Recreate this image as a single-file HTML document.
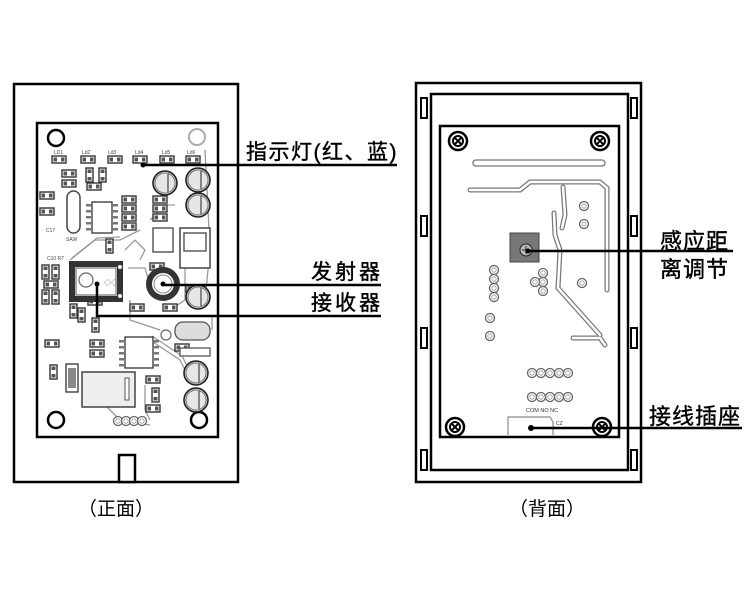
<!DOCTYPE html>
<html><head><meta charset="utf-8">
<style>
html,body{margin:0;padding:0;background:#fff;}
svg{display:block}
text{font-family:"Liberation Sans","Noto Sans CJK SC",sans-serif;}
</style></head><body>
<svg width="748" height="600" viewBox="0 0 748 600" xmlns="http://www.w3.org/2000/svg">
<defs>
<g id="smd"><rect x="0" y="0" width="14" height="7" fill="#fff" stroke="#333" stroke-width="1.4"/><rect x="1.5" y="1.5" width="3.5" height="4" fill="#555"/><rect x="9" y="1.5" width="3.5" height="4" fill="#555"/></g>
<g id="smdv"><rect x="0" y="0" width="7" height="14" fill="#fff" stroke="#333" stroke-width="1.4"/><rect x="1.5" y="1.5" width="4" height="3.5" fill="#555"/><rect x="1.5" y="9" width="4" height="3.5" fill="#555"/></g>
<g id="cap"><circle r="12" fill="#ccc" stroke="#222" stroke-width="1.6"/><circle r="10" fill="#e6e6e6" stroke="#777" stroke-width="1"/><line x1="3" y1="-9" x2="3" y2="9" stroke="#444" stroke-width="1.2"/></g>
<g id="pad"><circle r="4.5" fill="#fff" stroke="#666" stroke-width="1.3"/><circle r="2.2" fill="none" stroke="#999" stroke-width="0.8"/></g>
<g id="screw"><circle r="9" fill="#fff" stroke="#000" stroke-width="2.5"/><circle r="5" fill="#fff" stroke="#000" stroke-width="2"/><path d="M-3,-3 L3,3 M3,-3 L-3,3" stroke="#000" stroke-width="2"/></g>
<g id="tab"><rect x="-3" y="-10" width="6" height="20" fill="#fff" stroke="#000" stroke-width="2"/></g>
</defs>

<!-- LEFT (front) -->
<rect x="14" y="84" width="224" height="398" fill="#fff" stroke="#000" stroke-width="2.5"/>
<rect x="37" y="123" width="181" height="314" fill="#fff" stroke="#000" stroke-width="2.5"/>
<rect x="119" y="455" width="16" height="27" fill="#fff" stroke="#000" stroke-width="2.5"/>

<!-- traces -->
<g stroke="#999" stroke-width="1.3" fill="none">
<path d="M70,260 L95,240 L120,240 L140,230"/>
<path d="M72,258 L97,238 L120,237"/>
<path d="M125,250 L135,240 L145,250 L140,260"/>
<path d="M150,220 L165,205 L175,205"/>
<path d="M150,340 L180,360 L190,380"/>
<path d="M152,336 L182,356 L192,376"/>
<path d="M145,385 L145,410 L150,420"/>
<path d="M100,400 L120,420 L150,425"/>
<path d="M185,245 L185,300 L170,310"/>
<path d="M130,300 L130,320 L160,330"/>
<path d="M205,150 L210,250 L205,300"/>
<path d="M172,316 L212,316 L212,330"/>
<path d="M128,268 L145,268 L148,278"/>
</g>

<!-- holes -->
<circle cx="56" cy="138" r="8" fill="#fff" stroke="#000" stroke-width="2.5"/>
<circle cx="197" cy="137" r="8" fill="#fff" stroke="#aaa" stroke-width="2"/>
<circle cx="56" cy="420" r="8" fill="#fff" stroke="#000" stroke-width="2.5"/>
<circle cx="199" cy="420" r="8" fill="#fff" stroke="#000" stroke-width="2.5"/>

<!-- LEDs -->
<g font-size="5" fill="#444">
<text x="54" y="154">LD1</text><text x="82" y="154">Ld2</text><text x="108" y="154">Ld3</text><text x="135" y="154">Ld4</text><text x="162" y="154">Ld5</text><text x="187" y="154">Ld6</text>
</g>
<use href="#smd" x="52" y="156"/><use href="#smd" x="81" y="156"/><use href="#smd" x="108" y="156"/><use href="#smd" x="133" y="156"/><use href="#smd" x="160" y="156"/><use href="#smd" x="186" y="156"/>

<!-- small components -->
<use href="#smd" x="62" y="170"/><use href="#smd" x="62" y="180"/>
<use href="#smdv" x="86" y="168"/><use href="#smdv" x="99" y="168"/>
<use href="#smd" x="87" y="183"/>
<use href="#smd" x="40" y="192"/><use href="#smd" x="40" y="208"/>
<use href="#smd" x="122" y="196"/><use href="#smd" x="122" y="205"/><use href="#smd" x="122" y="214"/><use href="#smd" x="122" y="223"/>
<use href="#smd" x="153" y="196"/><use href="#smd" x="153" y="205"/><use href="#smd" x="153" y="214"/>
<use href="#smdv" x="42" y="265"/><use href="#smdv" x="52" y="265"/><use href="#smdv" x="42" y="290"/><use href="#smdv" x="52" y="290"/>
<use href="#smd" x="44" y="281"/>
<use href="#smd" x="150" y="263"/><use href="#smd" x="163" y="304"/><use href="#smd" x="130" y="304"/>
<use href="#smd" x="186" y="285"/>
<use href="#smdv" x="106" y="239"/><use href="#smdv" x="70" y="304"/>
<use href="#smdv" x="78" y="308"/><use href="#smd" x="88" y="298"/>
<use href="#smd" x="45" y="340"/><use href="#smd" x="90" y="340"/><use href="#smd" x="90" y="350"/>
<use href="#smd" x="146" y="376"/><use href="#smd" x="146" y="405"/>
<use href="#smdv" x="50" y="365"/><use href="#smdv" x="92" y="318"/>
<use href="#smdv" x="152" y="388"/><use href="#smd" x="175" y="344"/>
<rect x="66" y="364" width="12" height="28" fill="#fff" stroke="#333" stroke-width="1.3"/>
<rect x="68" y="368" width="8" height="20" fill="#888"/>
<!-- SAW -->
<rect x="67" y="191" width="13" height="42" rx="6.5" fill="#fff" stroke="#444" stroke-width="1.5"/>
<text x="66" y="241" font-size="5" fill="#444">SAW</text>
<text x="46" y="232" font-size="5" fill="#444">C17</text>
<text x="47" y="260" font-size="5" fill="#444">C10  R7</text>
<!-- U1 -->
<rect x="92" y="202" width="20" height="31" fill="#fff" stroke="#333" stroke-width="1.3"/>
<g fill="#777"><rect x="86" y="204" width="5" height="2.5"/><rect x="86" y="210" width="5" height="2.5"/><rect x="86" y="216" width="5" height="2.5"/><rect x="86" y="222" width="5" height="2.5"/><rect x="86" y="228" width="5" height="2.5"/>
<rect x="113" y="204" width="5" height="2.5"/><rect x="113" y="210" width="5" height="2.5"/><rect x="113" y="216" width="5" height="2.5"/><rect x="113" y="222" width="5" height="2.5"/><rect x="113" y="228" width="5" height="2.5"/></g>
<!-- U3 small ic -->
<rect x="153" y="228" width="20" height="24" fill="#fff" stroke="#333" stroke-width="1.2"/>
<!-- U2 -->
<rect x="125" y="337" width="28" height="31" fill="#fff" stroke="#333" stroke-width="1.3"/>
<g fill="#777"><rect x="119" y="340" width="5" height="2.5"/><rect x="119" y="346" width="5" height="2.5"/><rect x="119" y="352" width="5" height="2.5"/><rect x="119" y="358" width="5" height="2.5"/><rect x="119" y="364" width="5" height="2.5"/>
<rect x="154" y="340" width="5" height="2.5"/><rect x="154" y="346" width="5" height="2.5"/><rect x="154" y="352" width="5" height="2.5"/><rect x="154" y="358" width="5" height="2.5"/><rect x="154" y="364" width="5" height="2.5"/></g>
<!-- relay -->
<rect x="82" y="372" width="53" height="35" fill="#eee" stroke="#444" stroke-width="1.5"/>
<rect x="125" y="378" width="4" height="22" fill="#fff" stroke="#555"/>
<!-- inductor -->
<rect x="180" y="228" width="30" height="40" fill="#fff" stroke="#444" stroke-width="1.5"/>
<rect x="184" y="233" width="22" height="18" fill="#fff" stroke="#444" stroke-width="1.3"/>
<rect x="175" y="322" width="35" height="18" rx="8" fill="#ddd" stroke="#555" stroke-width="1.3"/>
<rect x="180" y="348" width="30" height="8" fill="#fff" stroke="#555" stroke-width="1.3"/>
<circle cx="166" cy="335" r="5" fill="#fff" stroke="#666" stroke-width="1.2"/>
<!-- caps -->
<use href="#cap" x="165" y="183"/><use href="#cap" x="198" y="180"/><use href="#cap" x="198" y="205"/>
<use href="#cap" x="198" y="297"/><use href="#cap" x="196" y="373"/><use href="#cap" x="196" y="400"/>
<!-- pads row -->
<use href="#pad" x="118" y="421"/><use href="#pad" x="126" y="421"/><use href="#pad" x="134" y="421"/><use href="#pad" x="142" y="421"/>

<!-- receiver -->
<rect x="72" y="264" width="48" height="35" fill="none" stroke="#333" stroke-width="6"/>
<rect x="76" y="268" width="40" height="27" fill="#fff" stroke="#555" stroke-width="1"/>
<circle cx="86" cy="280" r="7" fill="#fff" stroke="#666" stroke-width="1.2"/>
<text x="104" y="285" font-size="7" fill="#555">◇◇</text>
<circle cx="120" cy="267" r="2.5" fill="#fff" stroke="#333"/><circle cx="120" cy="296" r="2.5" fill="#fff" stroke="#333"/>
<!-- transmitter -->
<circle cx="163" cy="284" r="14" fill="none" stroke="#333" stroke-width="6"/>
<circle cx="163" cy="284" r="9" fill="#fff" stroke="#888" stroke-width="1"/>

<!-- leader lines -->
<g stroke="#000" stroke-width="2.5" fill="none">
<path d="M143,165 L397,165"/>
<path d="M163,285 L381,285"/>
<path d="M97,284 L97,316 L381,316"/>
</g>
<circle cx="143" cy="165" r="2.5" fill="#000"/>
<circle cx="163" cy="284" r="2.5" fill="#000"/>
<circle cx="97" cy="284" r="2.5" fill="#000"/>

<g font-size="21" fill="#000" stroke="#000" stroke-width="0.4">
<text x="246" y="159" letter-spacing="1.5">指示灯(红、蓝)</text>
<text x="311" y="279" letter-spacing="3">发射器</text>
<text x="311" y="310" letter-spacing="3">接收器</text>
</g>

<!-- RIGHT (back) -->
<rect x="416" y="83" width="225" height="399" fill="#fff" stroke="#000" stroke-width="2.5"/>
<rect x="431" y="94" width="197" height="376" fill="#fff" stroke="#000" stroke-width="2.5"/>
<rect x="440" y="126" width="179" height="311" fill="#fff" stroke="#000" stroke-width="2.5"/>
<use href="#tab" x="424" y="108"/><use href="#tab" x="424" y="226"/><use href="#tab" x="424" y="338"/><use href="#tab" x="424" y="460"/>
<use href="#tab" x="634" y="108"/><use href="#tab" x="634" y="226"/><use href="#tab" x="634" y="338"/><use href="#tab" x="634" y="460"/>
<use href="#screw" x="458" y="141"/><use href="#screw" x="600" y="141"/><use href="#screw" x="455" y="427"/><use href="#screw" x="602" y="427"/>

<g stroke="#777" stroke-width="1.3" fill="none">
<rect x="473" y="160" width="132" height="6" rx="3"/>
<path d="M470,190 L520,190 L530,182 L600,182 L607,188 L607,290" stroke-width="5" stroke-linecap="round"/>
<path d="M563,187 L565,215 L562,228" stroke-width="5" stroke-linecap="round"/>
<path d="M554,213 L555,235 L560,250 L558,288 L600,335" stroke-width="5" stroke-linecap="round"/>
<path d="M573,338 L600,338 L605,345" stroke-width="5" stroke-linecap="round"/>
</g>
<g stroke="#fff" stroke-width="2.5" fill="none">
<path d="M470,190 L520,190 L530,182 L600,182 L607,188 L607,290" stroke-linecap="round"/>
<path d="M563,187 L565,215 L562,228" stroke-linecap="round"/>
<path d="M554,213 L555,235 L560,250 L558,288 L600,335" stroke-linecap="round"/>
<path d="M573,338 L600,338 L605,345" stroke-linecap="round"/>
</g>
<use href="#pad" x="584" y="206"/><use href="#pad" x="584" y="224"/><use href="#pad" x="582" y="283"/>
<use href="#pad" x="494" y="270"/><use href="#pad" x="494" y="279"/><use href="#pad" x="494" y="288"/><use href="#pad" x="494" y="297"/>
<use href="#pad" x="543" y="273"/><use href="#pad" x="543" y="282"/><use href="#pad" x="543" y="291"/><use href="#pad" x="535" y="282"/>
<use href="#pad" x="490" y="318"/><use href="#pad" x="490" y="336"/>
<use href="#pad" x="532" y="373"/><use href="#pad" x="541" y="373"/><use href="#pad" x="550" y="373"/><use href="#pad" x="559" y="373"/><use href="#pad" x="568" y="373"/>
<use href="#pad" x="532" y="397"/><use href="#pad" x="541" y="397"/><use href="#pad" x="550" y="397"/><use href="#pad" x="559" y="397"/><use href="#pad" x="568" y="397"/>
<text x="526" y="412" font-size="5.5" fill="#333">COM NO NC</text>
<text x="556" y="425" font-size="5" fill="#333">CZ</text>
<path d="M508,435 L508,417 L550,417 L553,422 L553,435" fill="none" stroke="#888" stroke-width="1.2"/>
<!-- pot -->
<rect x="510" y="233" width="29" height="29" fill="#777" stroke="#444"/>
<circle cx="526" cy="250" r="6" fill="#bbb" stroke="#222" stroke-width="1"/>
<path d="M522,250 L530,250 M526,246 L526,254" stroke="#222" stroke-width="1"/>

<g stroke="#000" stroke-width="2.5" fill="none">
<path d="M528,251 L733,251"/>
<path d="M531,428 L742,428"/>
</g>
<circle cx="528" cy="251" r="2.5" fill="#000"/>
<circle cx="531" cy="428" r="3" fill="#000"/>
<g font-size="22" fill="#000" stroke="#000" stroke-width="0.4">
<text x="660" y="249" letter-spacing="1">感应距</text>
<text x="660" y="277" letter-spacing="1">离调节</text>
<text x="649" y="424" letter-spacing="1">接线插座</text>
</g>

<g font-size="19" fill="#000">
<text x="78" y="515">（正面）</text>
<text x="509" y="515">（背面）</text>
</g>
</svg>
</body></html>
